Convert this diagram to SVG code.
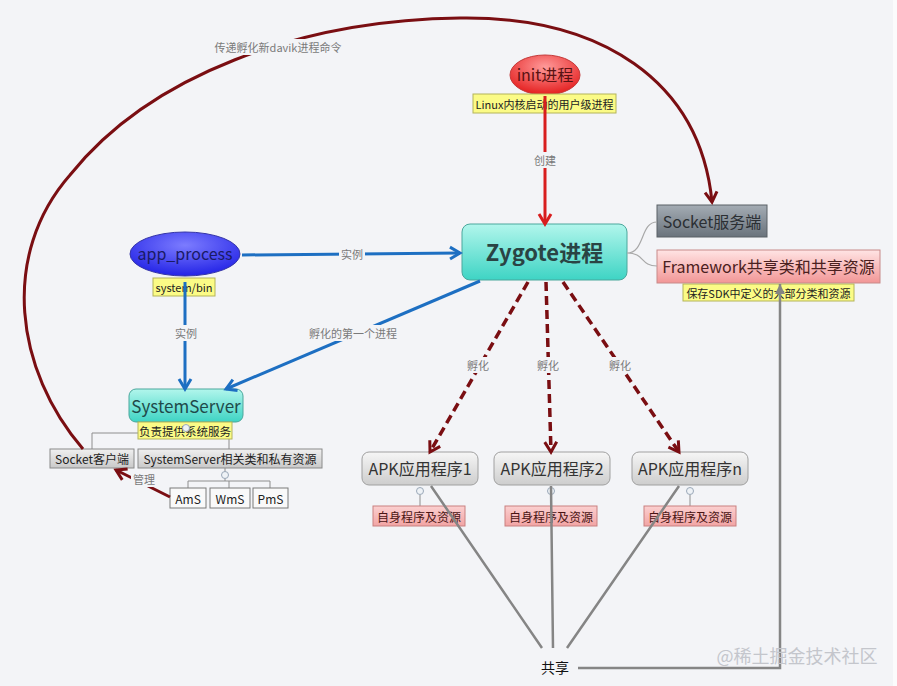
<svg xmlns="http://www.w3.org/2000/svg" width="897" height="686" viewBox="0 0 897 686">
<defs>
<linearGradient id="gTeal" x1="0" y1="0" x2="0" y2="1"><stop offset="0" stop-color="#b2f6ec"/><stop offset="1" stop-color="#3ed4c4"/></linearGradient>
<linearGradient id="gSock" x1="0" y1="0" x2="0" y2="1"><stop offset="0" stop-color="#a4acb4"/><stop offset="1" stop-color="#6a737c"/></linearGradient>
<linearGradient id="gPink" x1="0" y1="0" x2="0" y2="1"><stop offset="0" stop-color="#ffe4e4"/><stop offset="1" stop-color="#f29696"/></linearGradient>
<linearGradient id="gGray" x1="0" y1="0" x2="0" y2="1"><stop offset="0" stop-color="#f6f6f6"/><stop offset="1" stop-color="#cdcdcd"/></linearGradient>
<linearGradient id="gGray2" x1="0" y1="0" x2="0" y2="1"><stop offset="0" stop-color="#f0f0f0"/><stop offset="1" stop-color="#c9c9c9"/></linearGradient>
<linearGradient id="gPinkL" x1="0" y1="0" x2="0" y2="1"><stop offset="0" stop-color="#fbd0d0"/><stop offset="1" stop-color="#f2a4a4"/></linearGradient>
<radialGradient id="gRed" cx="0.5" cy="0.3" r="0.7"><stop offset="0" stop-color="#ff9a9a"/><stop offset="1" stop-color="#e41e1e"/></radialGradient>
<radialGradient id="gBlue" cx="0.5" cy="0.3" r="0.7"><stop offset="0" stop-color="#7c7cff"/><stop offset="1" stop-color="#2323e6"/></radialGradient>
<marker id="mBlue" markerUnits="userSpaceOnUse" markerWidth="16" markerHeight="16" refX="12" refY="8" orient="auto"><path d="M2,2 L12,8 L2,14" fill="none" stroke="#1d6fc2" stroke-width="3"/></marker>
<marker id="mRed" markerUnits="userSpaceOnUse" markerWidth="16" markerHeight="16" refX="12" refY="8" orient="auto"><path d="M2,2 L12,8 L2,14" fill="none" stroke="#d81e1e" stroke-width="3"/></marker>
<marker id="mMar" markerUnits="userSpaceOnUse" markerWidth="16" markerHeight="16" refX="12" refY="8" orient="auto"><path d="M2,2 L12,8 L2,14" fill="none" stroke="#7a0e12" stroke-width="3"/></marker>
<marker id="mGray" markerUnits="userSpaceOnUse" markerWidth="14" markerHeight="14" refX="11" refY="7" orient="auto"><path d="M1,2 L11,7 L1,12 Z" fill="#858585"/></marker>
</defs>
<style>
text{font-family:"Noto Sans CJK SC","Noto Sans",sans-serif;text-anchor:middle;dominant-baseline:central}
.lbl{font-size:11px;fill:#7a7a7a}
.lblbg{fill:#f3f4f7}
.yel{fill:#fbfb86;stroke:#b4b45a;stroke-width:1}
.ytxt{font-size:11px;fill:#222}
.blue{fill:none;stroke:#1d6fc2;stroke-width:3;marker-end:url(#mBlue)}
.red{fill:none;stroke:#d81e1e;stroke-width:3;marker-end:url(#mRed)}
.mar{fill:none;stroke:#7a0e12;stroke-width:3;marker-end:url(#mMar)}
.dash{fill:none;stroke:#7a0e12;stroke-width:3.5;stroke-dasharray:9,5;marker-end:url(#mMar)}
.share{fill:none;stroke:#858585;stroke-width:2.5}
.tree{fill:none;stroke:#8e8e8e;stroke-width:1}
.knob{fill:#eef2f6;stroke:#9aa8b8;stroke-width:1}
.pinkl{fill:url(#gPinkL);stroke:#c98080;stroke-width:1}
.ptxt{font-size:12px;fill:#4a1414}
.apk{fill:url(#gGray);stroke:#a0a0a0;stroke-width:1}
.atxt{font-size:16px;fill:#333}
.sbox{fill:url(#gGray2);stroke:#8a8a8a;stroke-width:1}
.stxt{font-size:12px;fill:#222}
.wbox{fill:#f9f9f9;stroke:#7a7a7a;stroke-width:1}
</style>
<rect width="897" height="686" fill="#f3f4f7"/>
<rect x="893" y="0" width="4" height="686" fill="#fbfbfc"/>

<g id="init">
  <ellipse cx="545" cy="75" rx="35" ry="20" fill="url(#gRed)" stroke="#c43a3a" stroke-width="1"/>
  <text x="545" y="74" style="font-size:16px;fill:#5a1212">init进程</text>
  <rect class="yel" x="473" y="94" width="143" height="19"/>
  <text class="ytxt" x="544.5" y="103.5">Linux内核启动的用户级进程</text>
</g>

<g id="zygote">
  <rect x="462" y="224" width="165" height="56" rx="8" fill="url(#gTeal)" stroke="#4aa79c" stroke-width="1"/>
  <text x="544.5" y="251" style="font-size:22px;font-weight:bold;fill:#2a4444">Zygote进程</text>
</g>

<g id="socket-server">
  <rect x="657" y="205" width="110" height="32" fill="url(#gSock)" stroke="#5a6066" stroke-width="1"/>
  <text x="712" y="220.5" style="font-size:16px;fill:#2b2f33">Socket服务端</text>
</g>

<g id="framework">
  <rect x="657" y="250" width="223" height="33" fill="url(#gPink)" stroke="#c88a8a" stroke-width="1"/>
  <text x="768.5" y="266" style="font-size:16px;fill:#4a2020">Framework共享类和共享资源</text>
  <rect class="yel" x="683" y="284" width="171" height="17"/>
  <text class="ytxt" x="768.5" y="292.5">保存SDK中定义的大部分类和资源</text>
</g>

<g id="app_process">
  <ellipse cx="185" cy="254" rx="55" ry="22" fill="url(#gBlue)" stroke="#3535a8" stroke-width="1"/>
  <text x="185" y="253" style="font-size:16px;fill:#1a1a66">app_process</text>
  <rect class="yel" x="153" y="278" width="62" height="18"/>
  <text class="ytxt" x="184" y="287">system/bin</text>
</g>

<g id="systemserver">
  <rect x="129" y="389" width="114" height="33" rx="7" fill="url(#gTeal)" stroke="#4aa79c" stroke-width="1"/>
  <text x="186" y="405" style="font-size:17px;fill:#1f4a4a">SystemServer</text>
  <path class="tree" d="M138,433 L92,433 L92,449 M229,439 L229,449"/>
  <rect class="yel" x="138" y="422" width="94" height="17"/>
  <text class="ytxt" x="185" y="430.5" style="font-size:11.5px">负责提供系统服务</text>
  <circle class="knob" cx="186" cy="428" r="3.5"/>
</g>

<g id="socket-client">
  <rect class="sbox" x="50" y="449" width="84" height="19"/>
  <text class="stxt" x="92" y="458.5">Socket客户端</text>
</g>

<g id="ss-private">
  <rect class="sbox" x="138" y="449" width="184" height="19"/>
  <text class="stxt" x="230" y="458.5">SystemServer相关类和私有资源</text>
  <path class="tree" d="M225,468 L225,481 M188,488 L188,481 L270,481 L270,488 M229,481 L229,488"/>
  <circle class="knob" cx="225" cy="475" r="3.5"/>
</g>

<g id="ams">
  <rect class="wbox" x="170" y="488" width="36" height="20"/>
  <text class="stxt" x="188" y="498">AmS</text>
</g>
<g id="wms">
  <rect class="wbox" x="210" y="488" width="40" height="20"/>
  <text class="stxt" x="230" y="498">WmS</text>
</g>
<g id="pms">
  <rect class="wbox" x="253" y="488" width="35" height="20"/>
  <text class="stxt" x="270.5" y="498">PmS</text>
</g>

<g id="apk1">
  <rect class="apk" x="362" y="452" width="116" height="33" rx="7"/>
  <text class="atxt" x="420" y="468">APK应用程序1</text>
  <path class="tree" d="M420,495 L420,506" stroke="#9aa8b8"/>
  <circle class="knob" cx="420" cy="491" r="3.5"/>
  <rect class="pinkl" x="373" y="506" width="92" height="20"/>
  <text class="ptxt" x="419" y="516">自身程序及资源</text>
</g>
<g id="apk2">
  <rect class="apk" x="494" y="452" width="116" height="33" rx="7"/>
  <text class="atxt" x="552" y="468">APK应用程序2</text>
  <path class="tree" d="M551,495 L551,506" stroke="#9aa8b8"/>
  <circle class="knob" cx="551" cy="491" r="3.5"/>
  <rect class="pinkl" x="505" y="506" width="92" height="20"/>
  <text class="ptxt" x="551" y="516">自身程序及资源</text>
</g>
<g id="apkn">
  <rect class="apk" x="632" y="452" width="116" height="33" rx="7"/>
  <text class="atxt" x="690" y="468">APK应用程序n</text>
  <path class="tree" d="M690,495 L690,506" stroke="#9aa8b8"/>
  <circle class="knob" cx="690" cy="491" r="3.5"/>
  <rect class="pinkl" x="644" y="506" width="92" height="20"/>
  <text class="ptxt" x="690" y="516">自身程序及资源</text>
</g>

<g id="share">
  <text x="555" y="667" style="font-size:14px;fill:#111">共享</text>
</g>

<g id="connectors">
  <path class="mar" d="M83,449 C15,370 0,255 70,175 C150,75 300,20 460,18 C600,16 700,80 712,202"/>
  <rect class="lblbg" x="212" y="39" width="132" height="16"/>
  <text class="lbl" x="278" y="47">传递孵化新davik进程命令</text>

  <path class="red" d="M545,96 L545,224"/>
  <rect class="lblbg" x="532" y="152" width="26" height="16"/>
  <text class="lbl" x="545" y="160">创建</text>

  <path class="blue" d="M242,255 L460,253"/>
  <rect class="lblbg" x="339" y="246" width="26" height="16"/>
  <text class="lbl" x="352" y="254">实例</text>

  <path class="blue" d="M185,282 L185,389"/>
  <rect class="lblbg" x="173" y="325" width="26" height="16"/>
  <text class="lbl" x="186" y="333">实例</text>

  <path class="blue" d="M480,281 L226,389"/>
  <rect class="lblbg" x="307" y="325" width="92" height="16"/>
  <text class="lbl" x="353" y="333">孵化的第一个进程</text>

  <path d="M627,253 C645,253 640,222 657,222 M627,253 C645,253 640,266 657,266" fill="none" stroke="#a8a8a8" stroke-width="1.2"/>

  <path class="dash" d="M528,282 L430,452"/>
  <rect class="lblbg" x="465" y="357" width="26" height="16"/>
  <text class="lbl" x="478" y="365">孵化</text>
  <path class="dash" d="M546,282 L551,452"/>
  <rect class="lblbg" x="535" y="357" width="26" height="16"/>
  <text class="lbl" x="548" y="365">孵化</text>
  <path class="dash" d="M563,282 L679,452"/>
  <rect class="lblbg" x="607" y="357" width="26" height="16"/>
  <text class="lbl" x="620" y="365">孵化</text>

  <path class="mar" d="M170,497 L116,470"/>
  <rect class="lblbg" x="131" y="471" width="26" height="16"/>
  <text class="lbl" x="144" y="479">管理</text>

  <path class="share" d="M431,486 L542,648 M551,486 L553,648 M679,486 L567,648"/>
  <path class="share" d="M578,668 L780,668 L780,284" marker-end="url(#mGray)"/>
</g>

<text x="797" y="655" style="font-size:18px;fill:#c4c6cc">@稀土掘金技术社区</text>
</svg>
